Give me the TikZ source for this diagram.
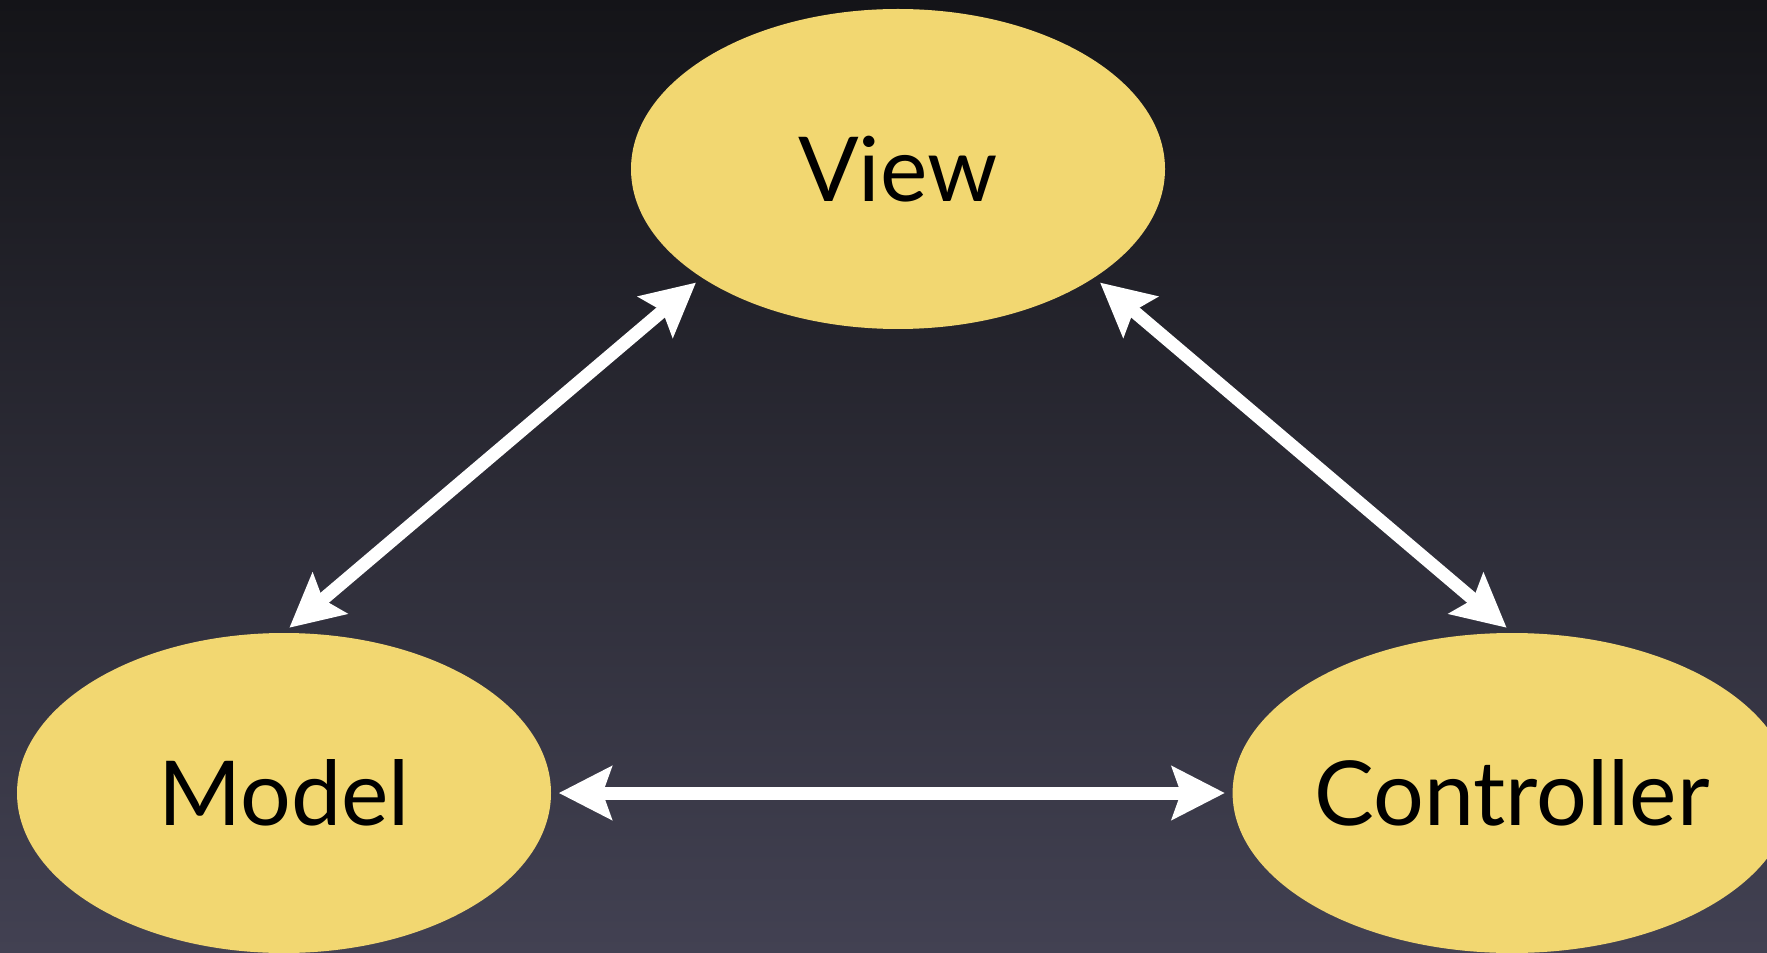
\documentclass[tikz,border=0pt]{standalone}
\usepackage{fontspec}
\setmainfont{Lato}
\usetikzlibrary{shapes.geometric}
\usetikzlibrary{arrows.meta}
\definecolor{bgtop}{RGB}{20,20,24}
\definecolor{bgbottom}{RGB}{66,65,82}
\definecolor{pad}{RGB}{242,215,113}

\begin{document}
\begin{tikzpicture}[
        part/.style={ellipse,fill=pad,minimum width=5.34cm,minimum height=3.2cm,inner sep=0pt,
            font=\fontsize{25.5}{30}\selectfont},
        link/.style={draw=white,line width=3.7pt,
            {Stealth[length=15pt,width=15pt,inset=2.5pt]}-{Stealth[length=15pt,width=15pt,inset=2.5pt]},
            shorten <=2pt,shorten >=2pt}]
                \shade[top color=bgtop,bottom color=bgbottom] (0,0) rectangle (17.67,9.52);
                \useasboundingbox (0,0) rectangle (17.67,9.52);

                \node[part] (view) at (8.98,7.83) {View};
                \node[part] (model) at (2.84,1.59) {Model};
                \node[part] (controller) at (15.12,1.59) {Controller};

                \draw[link] (model.north) -- (view.209);
                \draw[link] (view.331) -- (controller.north);
                \draw[link] (model) -- (controller);
\end{tikzpicture}
\end{document}
